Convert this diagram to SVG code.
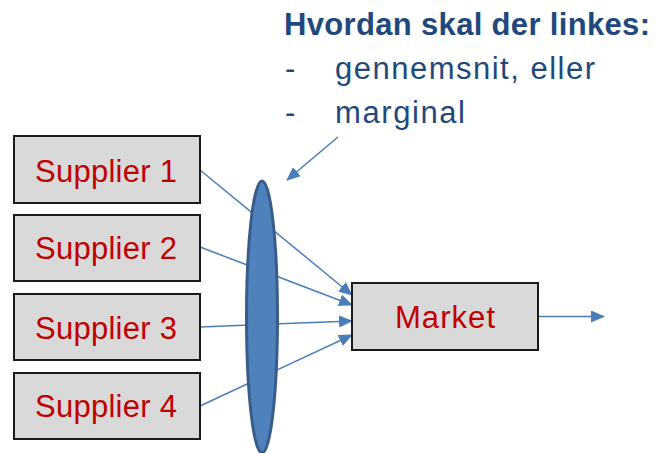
<svg xmlns="http://www.w3.org/2000/svg" width="659" height="453" viewBox="0 0 659 453">
<style>
.box{fill:#d9d9d9;stroke:#1a1a1a;stroke-width:2}
.lbl{font-family:"Liberation Sans",Arial,sans-serif;font-size:31px;fill:#c00000}
.ttl{font-family:"Liberation Sans",Arial,sans-serif;fill:#1f497d;font-size:31px}
.con{stroke:#4a7ebb;stroke-width:1.5;fill:none}
</style>
<defs>
<marker id="ah" markerUnits="userSpaceOnUse" markerWidth="14" markerHeight="12" refX="13" refY="6" orient="auto">
<path d="M0,0 L14,6 L0,12 Z" fill="#4a7ebb"/>
</marker>
</defs>
<g id="connectors">
<line class="con" x1="200" y1="170" x2="352" y2="295" marker-end="url(#ah)"/>
<line class="con" x1="200" y1="247" x2="352" y2="305" marker-end="url(#ah)"/>
<line class="con" x1="200" y1="327" x2="352" y2="321" marker-end="url(#ah)"/>
<line class="con" x1="200" y1="406" x2="352" y2="335" marker-end="url(#ah)"/>
<line class="con" x1="538" y1="316.5" x2="604" y2="316.5" marker-end="url(#ah)"/>
<line class="con" x1="338" y1="137" x2="287" y2="180" marker-end="url(#ah)"/>
</g>
<g id="lens">
<ellipse cx="262" cy="317" rx="15.5" ry="136" fill="#4f81bd" stroke="#385d8a" stroke-width="3"/>
</g>
<g id="supplier1">
<rect class="box" x="14" y="136" width="186" height="67"/>
<text class="lbl" x="35" y="182" textLength="142">Supplier 1</text>
</g>
<g id="supplier2">
<rect class="box" x="14" y="215" width="186" height="66"/>
<text class="lbl" x="35" y="258.5" textLength="142">Supplier 2</text>
</g>
<g id="supplier3">
<rect class="box" x="14" y="294" width="186" height="66"/>
<text class="lbl" x="35" y="338.5" textLength="142">Supplier 3</text>
</g>
<g id="supplier4">
<rect class="box" x="14" y="373" width="186" height="66"/>
<text class="lbl" x="35" y="417" textLength="142">Supplier 4</text>
</g>
<g id="market">
<rect class="box" x="352" y="283" width="186" height="67"/>
<text class="lbl" x="395" y="328" textLength="100">Market</text>
</g>
<g id="title">
<text class="ttl" x="284" y="35" font-weight="bold" textLength="366">Hvordan skal der linkes:</text>
<text class="ttl" x="285" y="79">-</text>
<text class="ttl" x="335" y="79" textLength="260">gennemsnit, eller</text>
<text class="ttl" x="285" y="123">-</text>
<text class="ttl" x="335" y="123" textLength="130">marginal</text>
</g>
</svg>
